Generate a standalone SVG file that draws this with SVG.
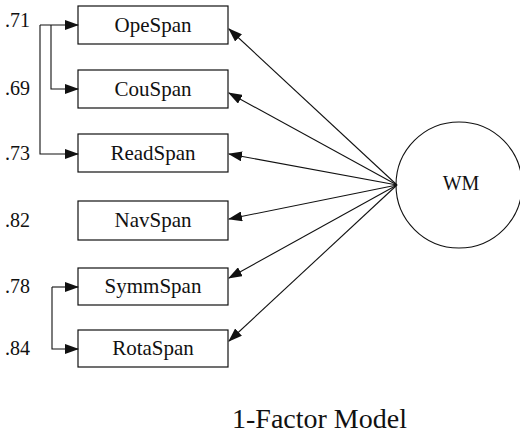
<svg xmlns="http://www.w3.org/2000/svg" width="520" height="435" viewBox="0 0 520 435">
<style>
.box{fill:#fff;stroke:#111;stroke-width:1.2}
.t{font-family:"Liberation Serif","Times New Roman",serif;font-size:21px;fill:#111;text-anchor:middle;dominant-baseline:central}
.lbl{font-family:"Liberation Serif","Times New Roman",serif;font-size:20px;fill:#111}
.ln{fill:none;stroke:#111;stroke-width:1.1}
</style>
<defs>
<marker id="ah" markerWidth="14" markerHeight="10" refX="13" refY="5" orient="auto" markerUnits="userSpaceOnUse">
<path d="M0,0 L14,5 L0,10 z" fill="#111"/>
</marker>
</defs>
<rect width="520" height="435" fill="#fff"/>
<g id="OpeSpan"><rect class="box" x="78" y="6" width="150" height="38"/><text class="t" x="153" y="25">OpeSpan</text></g>
<g id="CouSpan"><rect class="box" x="78" y="70" width="150" height="38"/><text class="t" x="153" y="89">CouSpan</text></g>
<g id="ReadSpan"><rect class="box" x="78" y="134" width="150" height="38"/><text class="t" x="153" y="153">ReadSpan</text></g>
<g id="NavSpan"><rect class="box" x="78" y="201" width="150" height="39"/><text class="t" x="153" y="220">NavSpan</text></g>
<g id="SymmSpan"><rect class="box" x="78" y="268" width="150" height="37"/><text class="t" x="153" y="286">SymmSpan</text></g>
<g id="RotaSpan"><rect class="box" x="78" y="330" width="150" height="37"/><text class="t" x="153" y="348">RotaSpan</text></g>
<g id="WM"><circle cx="459" cy="185" r="63" fill="#fff" stroke="#111" stroke-width="1.1"/><text class="t" x="461" y="183" style="font-size:20px">WM</text></g>
<g id="labels">
<text class="lbl" x="5" y="27">.71</text>
<text class="lbl" x="5" y="95">.69</text>
<text class="lbl" x="5" y="160">.73</text>
<text class="lbl" x="5" y="227">.82</text>
<text class="lbl" x="5" y="293">.78</text>
<text class="lbl" x="5" y="355">.84</text>
</g>
<g id="connectors">
<path class="ln" d="M40,25 H78" marker-end="url(#ah)"/>
<path class="ln" d="M40,25 V154 H78" marker-end="url(#ah)"/>
<path class="ln" d="M51,25 V89 H78" marker-end="url(#ah)"/>
<path class="ln" d="M52,287 H78" marker-end="url(#ah)"/>
<path class="ln" d="M52,287 V349 H78" marker-end="url(#ah)"/>
<line class="ln" x1="397" y1="185" x2="229" y2="29" marker-end="url(#ah)"/>
<line class="ln" x1="397" y1="185" x2="229" y2="93" marker-end="url(#ah)"/>
<line class="ln" x1="397" y1="185" x2="229" y2="154" marker-end="url(#ah)"/>
<line class="ln" x1="397" y1="185" x2="229" y2="219" marker-end="url(#ah)"/>
<line class="ln" x1="397" y1="185" x2="229" y2="278" marker-end="url(#ah)"/>
<line class="ln" x1="397" y1="185" x2="229" y2="341" marker-end="url(#ah)"/>
</g>
<text x="232" y="428" font-family="Liberation Serif, Times New Roman, serif" font-size="28" fill="#111">1-Factor Model</text>
</svg>
